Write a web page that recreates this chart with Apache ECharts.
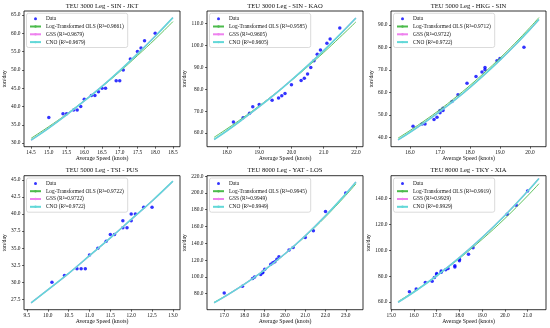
<!DOCTYPE html>
<html><head><meta charset="utf-8">
<script src="https://cdn.jsdelivr.net/npm/echarts@6/dist/echarts.min.js"></script>
<style>html,body{margin:0;padding:0;background:#fff}#c{width:550px;height:328px}</style>
</head><body><div id="c"></div>
<script>
// ---------- data ----------
const titles = ['TEU 3000 Leg - SIN - JKT','TEU 3000 Leg - SIN - KAO','TEU 5000 Leg - HKG - SIN',
                'TEU 5000 Leg - TSI - PUS','TEU 8000 Leg - YAT - LOS','TEU 8000 Leg - TKY - XIA'];
const r2Ols = ['0.9661','0.9585','0.9712','0.9722','0.9945','0.9919'];
const r2Gss = ['0.9679','0.9605','0.9722','0.9722','0.9949','0.9929'];
const r2Cno = ['0.9679','0.9605','0.9722','0.9722','0.9949','0.9929'];

// Panel 1: SIN - JKT
const speed1 = [15.0,15.4,15.5,15.7,15.8,15.9,16.0,16.2,16.3,16.4,16.5,16.6,16.9,17.0,17.1,17.3,17.5,17.6,17.7,18.0];
const fuel1  = [37,38,38,39,39,40,42,43,43,44,45,45,47,47,50,53,55,56,58,60];
const lineX1 = [14.5,15.0,15.5,16.0,16.5,17.0,17.5,18.0,18.5];
const ols1   = [31.3,34.5,37.9,41.6,45.4,49.5,53.9,58.4,63.2];
const gss1   = [30.8,34.1,37.7,41.5,45.5,49.8,54.4,59.2,64.3];
const cno1   = [30.8,34.1,37.7,41.5,45.5,49.8,54.4,59.2,64.3];
const xTicks1 = [14.5,15.0,15.5,16.0,16.5,17.0,17.5,18.0,18.5];
const yTicks1 = [30,35,40,45,50,55,60,65];

// Panel 2: SIN - KAO
const speed2 = [18.2,18.5,18.7,18.8,19.0,19.4,19.6,19.7,19.8,20.0,20.3,20.4,20.5,20.6,20.7,20.8,20.9,21.1,21.2,21.5];
const fuel2  = [65,67,69,72,73,75,76,77,78,82,84,85,87,90,93,96,98,101,103,108];
const lineX2 = [17.6,18.0,18.5,19.0,19.5,20.0,20.5,21.0,21.5,22.0];
const ols2   = [58.0,61.9,67.0,72.4,78.1,84.0,90.3,96.8,103.7,110.8];
const gss2   = [57.0,61.0,66.4,72.0,77.9,84.2,90.8,97.7,105.0,112.6];
const cno2   = [57.0,61.0,66.4,72.0,77.9,84.2,90.8,97.7,105.0,112.6];
const xTicks2 = [18,19,20,21,22];
const yTicks2 = [60,70,80,90,100,110];

// Panel 3: HKG - SIN
const speed3 = [16.1,16.4,16.5,16.8,16.9,17.0,17.0,17.1,17.1,17.4,17.6,17.9,18.2,18.4,18.5,18.5,18.9,19.0,19.8];
const fuel3  = [45,46,46,48,49,51,52,52,53,56,59,64,67,69,70,71,74,75,80];
const lineX3 = [15.6,16.0,16.5,17.0,17.5,18.0,18.5,19.0,19.5,20.0,20.3];
const ols3   = [39.7,43.1,47.6,52.4,57.6,63.1,69.0,75.2,81.8,88.8,93.2];
const gss3   = [38.9,42.3,46.8,51.6,56.7,62.2,68.1,74.3,80.9,87.9,92.3];
const cno3   = [38.9,42.3,46.8,51.6,56.7,62.2,68.1,74.3,80.9,87.9,92.3];
const xTicks3 = [16,17,18,19,20];
const yTicks3 = [40,50,60,70,80,90];

// Panel 4: TSI - PUS
const speed4 = [10.1,10.4,10.7,10.8,10.9,11.0,11.2,11.4,11.5,11.6,11.8,11.8,11.9,12.0,12.0,12.1,12.3,12.5];
const fuel4  = [30,31,32,32,32,34,35,36,37,37,38,39,38,39,40,40,41,41];
const lineX4 = [9.6,10.0,10.5,11.0,11.5,12.0,12.5,13.0];
const ols4   = [27.0,28.9,31.3,33.9,36.5,39.2,41.9,44.8];
const gss4   = [27.0,28.9,31.3,33.9,36.5,39.2,41.9,44.8];
const cno4   = [27.0,28.9,31.3,33.9,36.5,39.2,41.9,44.8];
const xTicks4 = [9.5,10.0,10.5,11.0,11.5,12.0,12.5,13.0];
const yTicks4 = [27.5,30,32.5,35,37.5,40,42.5,45];

// Panel 5: YAT - LOS
const speed5 = [17.0,17.9,18.4,18.5,18.8,18.9,18.9,19.0,19.3,19.4,19.5,19.6,19.7,20.2,20.4,21.0,21.4,22.0,23.0];
const fuel5  = [81,89,98,100,103,105,106,109,115,117,118,121,124,132,135,147,155,178,200];
const lineX5 = [16.5,17.0,18.0,19.0,20.0,21.0,22.0,23.0,23.5];
const ols5   = [69.8,76.6,91.6,108.5,127.3,148.3,171.5,197.1,210.8];
const gss5   = [69.3,76.2,91.4,108.5,127.6,149.0,172.8,198.9,213.0];
const cno5   = [69.3,76.2,91.4,108.5,127.6,149.0,172.8,198.9,213.0];
const xTicks5 = [17,18,19,20,21,22,23];
const yTicks5 = [80,100,120,140,160,180,200,220];

// Panel 6: TKY - XIA
const speed6 = [15.8,16.1,16.5,16.8,16.9,17.0,17.0,17.2,17.2,17.4,17.5,17.8,17.8,18.0,18.0,18.4,18.6,20.1,20.5,21.0];
const fuel6  = [68,70,75,76,79,81,82,83,84,85,86,87,88,92,93,97,102,128,135,146];
const lineX6 = [15.3,16.0,17.0,18.0,19.0,20.0,21.0,21.5];
const ols6   = [60.3,68.1,80.2,93.7,108.5,124.6,142.2,151.6];
const gss6   = [59.7,67.7,80.3,94.4,109.9,127.0,145.7,155.7];
const cno6   = [59.7,67.7,80.3,94.4,109.9,127.0,145.7,155.7];
const xTicks6 = [15,16,17,18,19,20,21];
const yTicks6 = [60,80,100,120,140];

// ---------- layout ----------
const panels = [
  {sx:speed1,sy:fuel1,lx:lineX1,o:ols1,g:gss1,c:cno1,xt:xTicks1,yt:yTicks1,xr:[14.3,18.7],yr:[29.0,66.1],L:24,T:11,W:156,H:135.7},
  {sx:speed2,sy:fuel2,lx:lineX2,o:ols2,g:gss2,c:cno2,xt:xTicks2,yt:yTicks2,xr:[17.38,22.22],yr:[53.7,115.8],L:207,T:11,W:156,H:135.7},
  {sx:speed3,sy:fuel3,lx:lineX3,o:ols3,g:gss3,c:cno3,xt:xTicks3,yt:yTicks3,xr:[15.365,20.535],yr:[35.9,96.1],L:391,T:11,W:155,H:135.7},
  {sx:speed4,sy:fuel4,lx:lineX4,o:ols4,g:gss4,c:cno4,xt:xTicks4,yt:yTicks4,xr:[9.43,13.17],yr:[26.0,45.6],L:24,T:175.7,W:156,H:134},
  {sx:speed5,sy:fuel5,lx:lineX5,o:ols5,g:gss5,c:cno5,xt:xTicks5,yt:yTicks5,xr:[16.15,23.85],yr:[61,220.5],L:207,T:175.7,W:156,H:134},
  {sx:speed6,sy:fuel6,lx:lineX6,o:ols6,g:gss6,c:cno6,xt:xTicks6,yt:yTicks6,xr:[14.99,21.81],yr:[54,157.8],L:391,T:175.7,W:155,H:134}
];

const FONT = 'Liberation Serif';
const C_DATA = '#0000ff', C_OLS = '#4cbb4c', C_GSS = '#ee82ee', C_CNO = '#62d8d8';
const pairs = (xs, ys) => xs.map((x, i) => [x, ys[i]]);
const fmt = v => Number(v).toFixed(1);

const grid = [], xAxis = [], yAxis = [], series = [], title = [], legend = [];
panels.forEach((p, i) => {
  grid.push({left:p.L, top:p.T, width:p.W, height:p.H, show:true, borderColor:'#000', borderWidth:0.8, backgroundColor:'transparent'});
  const tick = {show:true, inside:false, length:2, lineStyle:{color:'#000', width:0.6}};
  xAxis.push({type:'value', gridIndex:i, min:p.xr[0], max:p.xr[1],
    axisLine:{show:false}, splitLine:{show:false},
    axisTick:Object.assign({customValues:p.xt}, tick),
    axisLabel:{customValues:p.xt, formatter:fmt, fontFamily:FONT, fontSize:5.4, color:'#111', margin:3},
    name:'Average Speed (knots)', nameLocation:'middle', nameGap:9,
    nameTextStyle:{fontFamily:FONT, fontSize:5.8, color:'#111'}});
  yAxis.push({type:'value', gridIndex:i, min:p.yr[0], max:p.yr[1],
    axisLine:{show:false}, splitLine:{show:false},
    axisTick:Object.assign({customValues:p.yt}, tick),
    axisLabel:{customValues:p.yt, formatter:fmt, fontFamily:FONT, fontSize:5.4, color:'#111', margin:3.5},
    name:'ton/day', nameLocation:'middle', nameGap:15.5,
    nameTextStyle:{fontFamily:FONT, fontSize:5.8, color:'#111'}});
  title.push({text:titles[i], left:p.L + p.W/2, top:p.T - 8.7, textAlign:'center', padding:0,
    textStyle:{fontFamily:FONT, fontSize:6.6, fontWeight:'normal', color:'#111'}});
  const nO = 'Log-Transformed OLS (R²=' + r2Ols[i] + ')';
  const nG = 'GSS (R²=' + r2Gss[i] + ')';
  const nC = 'CNO (R²=' + r2Cno[i] + ')';
  series.push({type:'scatter', name:'Data', xAxisIndex:i, yAxisIndex:i, data:pairs(p.sx, p.sy),
    symbol:'circle', symbolSize:3.5, itemStyle:{color:C_DATA}, silent:true});
  series.push({type:'line', name:nO, xAxisIndex:i, yAxisIndex:i, data:pairs(p.lx, p.o),
    smooth:0.4, symbol:'none', showSymbol:false, lineStyle:{color:C_OLS, width:0.9}, itemStyle:{color:C_OLS}, silent:true});
  series.push({type:'line', name:nG, xAxisIndex:i, yAxisIndex:i, data:pairs(p.lx, p.g),
    smooth:0.4, symbol:'none', showSymbol:false, lineStyle:{color:C_GSS, width:1.3}, itemStyle:{color:C_GSS}, silent:true});
  series.push({type:'line', name:nC, xAxisIndex:i, yAxisIndex:i, data:pairs(p.lx, p.c),
    smooth:0.4, symbol:'none', showSymbol:false, lineStyle:{color:C_CNO, width:1.6}, itemStyle:{color:C_CNO}, silent:true});
  legend.push({orient:'vertical', left:p.L + 2.5, top:p.T + 2.3, padding:[2.6,4,2.6,2.5],
    itemWidth:11, itemHeight:3, itemGap:2.2, selectedMode:false,
    backgroundColor:'rgba(255,255,255,0.85)', borderColor:'#cccccc', borderWidth:0.7, borderRadius:2,
    textStyle:{fontFamily:FONT, fontSize:5.4, color:'#111', lineHeight:5.6},
    data:[{name:'Data', icon:'circle'}, nO, nG, nC]});
});

const chart = echarts.init(document.getElementById('c'), null, {renderer:'canvas'});
chart.setOption({animation:false, backgroundColor:'#fff', grid, xAxis, yAxis, title, legend, series});
</script></body></html>
